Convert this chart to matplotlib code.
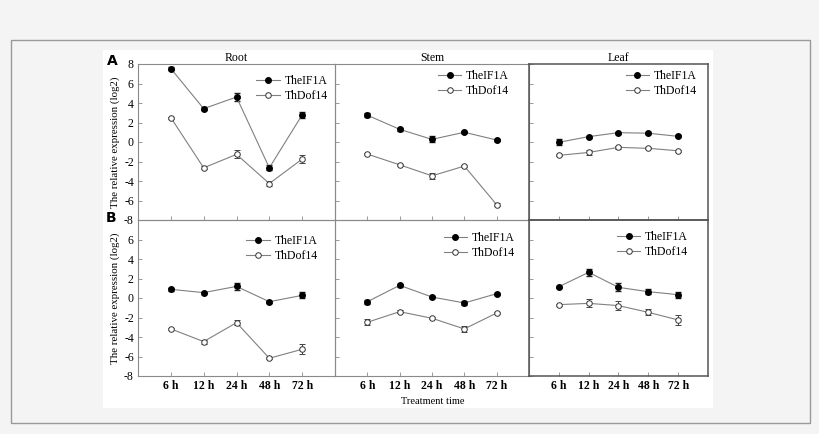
import matplotlib
matplotlib.use('Agg')
import matplotlib.pyplot as plt
from matplotlib.patches import Rectangle
from matplotlib.lines import Line2D
import numpy as np

plt.rcParams['font.family'] = 'serif'
plt.rcParams['font.serif'] = ['Liberation Serif', 'DejaVu Serif']
plt.rcParams['axes.unicode_minus'] = False

times = ["6 h", "12 h", "24 h", "48 h", "72 h"]
tissues = ["Root", "Stem", "Leaf"]

# row A
a_eif = {"Root": [7.53, 3.42, 4.61, -2.65, 2.78],
         "Stem": [2.75, 1.30, 0.27, 1.00, 0.20],
         "Leaf": [-0.03, 0.55, 0.96, 0.90, 0.58]}
a_eif_err = {"Root": [0.15, 0.15, 0.4, 0.25, 0.3],
             "Stem": [0.2, 0.15, 0.3, 0.1, 0.1],
             "Leaf": [0.3, 0.1, 0.1, 0.1, 0.1]}
a_dof = {"Root": [2.50, -2.65, -1.27, -4.26, -1.75],
         "Stem": [-1.24, -2.34, -3.47, -2.47, -6.43],
         "Leaf": [-1.37, -1.07, -0.55, -0.65, -0.90]}
a_dof_err = {"Root": [0.1, 0.15, 0.4, 0.25, 0.45],
             "Stem": [0.1, 0.1, 0.3, 0.1, 0.15],
             "Leaf": [0.1, 0.25, 0.15, 0.1, 0.1]}

# row B
b_eif = {"Root": [0.89, 0.55, 1.19, -0.38, 0.27],
         "Stem": [-0.38, 1.30, 0.10, -0.51, 0.44],
         "Leaf": [1.16, 2.63, 1.09, 0.65, 0.34]}
b_eif_err = {"Root": [0.15, 0.1, 0.35, 0.1, 0.3],
             "Stem": [0.2, 0.15, 0.1, 0.2, 0.1],
             "Leaf": [0.1, 0.35, 0.4, 0.25, 0.3]}
b_dof = {"Root": [-3.17, -4.47, -2.53, -6.18, -5.26],
         "Stem": [-2.49, -1.40, -2.08, -3.17, -1.54],
         "Leaf": [-0.68, -0.55, -0.78, -1.47, -2.25]}
b_dof_err = {"Root": [0.1, 0.2, 0.25, 0.1, 0.5],
             "Stem": [0.3, 0.15, 0.1, 0.3, 0.1],
             "Leaf": [0.1, 0.4, 0.45, 0.3, 0.5]}

W, H = 820, 434
fig = plt.figure(figsize=(W / 100, H / 100), dpi=100, facecolor='#f4f4f4')

def px(x0, y0, x1, y1):
    return [x0 / W, 1 - y1 / H, (x1 - x0) / W, (y1 - y0) / H]

fig.patches.append(Rectangle((11 / W, 1 - 423 / H), 799 / W, 383 / H,
                             transform=fig.transFigure, facecolor='none',
                             edgecolor='#9a9a9a', lw=1.0, zorder=-10))
fig.patches.append(Rectangle((103 / W, 1 - 408 / H), 610 / W, 358 / H,
                             transform=fig.transFigure, facecolor='white',
                             edgecolor='none', zorder=-9))

cols = [(138, 335), (335, 529), (529, 708)]
rows = [(64, 220), (220, 376)]

# legend anchors (axes fraction) per row/column
leg_pos = [[(0.60, 0.93), (0.53, 0.96), (0.54, 0.96)],
           [(0.55, 0.905), (0.56, 0.92), (0.49, 0.93)]]

x = np.arange(1, 6)
line_c = '#808080'

h_eif = Line2D([], [], color=line_c, lw=0.8, marker='o', ms=4,
               mfc='black', mec='black')
h_dof = Line2D([], [], color=line_c, lw=0.8, marker='o', ms=4,
               mfc='white', mec='#333333', mew=0.7)

for r, (y0, y1) in enumerate(rows):
    eif, eif_err, dof, dof_err = [(a_eif, a_eif_err, a_dof, a_dof_err),
                                  (b_eif, b_eif_err, b_dof, b_dof_err)][r]
    for c, (x0, x1) in enumerate(cols):
        t = tissues[c]
        ax = fig.add_axes(px(x0, y0, x1, y1))
        ax.set_facecolor('none')
        ax.errorbar(x, eif[t], yerr=eif_err[t], color=line_c, lw=0.8,
                    marker='o', ms=4, mfc='black', mec='black',
                    ecolor='#222222', elinewidth=0.7, capsize=2)
        ax.errorbar(x, dof[t], yerr=dof_err[t], color=line_c, lw=0.8,
                    marker='o', ms=4, mfc='white', mec='#333333', mew=0.7,
                    ecolor='#444444', elinewidth=0.7, capsize=2)
        ax.set_xlim(0, 6)
        ax.set_ylim(-8, 8)
        ax.set_xticks(x)
        ax.tick_params(direction='in', length=3, width=0.6, color='#888888',
                       labelsize=8.5, pad=3)
        if r == 0:
            ax.set_yticks(np.arange(-8, 9, 2))
            ax.set_xticklabels([])
            ax.set_title(t, fontsize=8.5, pad=2)
        else:
            ax.set_yticks(np.arange(-8, 7, 2))
            ax.set_xticklabels(times, fontsize=8.5, fontweight='bold')
        if c != 0:
            ax.set_yticklabels([])
        else:
            ax.set_ylabel('The relative expression (log2)', fontsize=7.8, labelpad=3)
        for s in ax.spines.values():
            s.set_color('#555555' if c == 2 else '#8a8a8a')
            s.set_linewidth(1.1 if c == 2 else 0.8)
        ax.legend([h_eif, h_dof], ['TheIF1A', 'ThDof14'], loc='upper left',
                  bbox_to_anchor=leg_pos[r][c], frameon=False, fontsize=8.5,
                  borderpad=0, borderaxespad=0, handlelength=2.0,
                  handletextpad=0.4, labelspacing=0.25)

fig.text(112 / W, 1 - 61 / H, 'A', fontsize=10, fontweight='bold',
         family='DejaVu Sans', ha='center', va='center')
fig.text(111 / W, 1 - 218 / H, 'B', fontsize=10, fontweight='bold',
         family='DejaVu Sans', ha='center', va='center')
fig.text(433 / W, 1 - 402 / H, 'Treatment time', fontsize=7.5,
         ha='center', va='center')

fig.savefig('out.png', dpi=100, facecolor=fig.get_facecolor())
